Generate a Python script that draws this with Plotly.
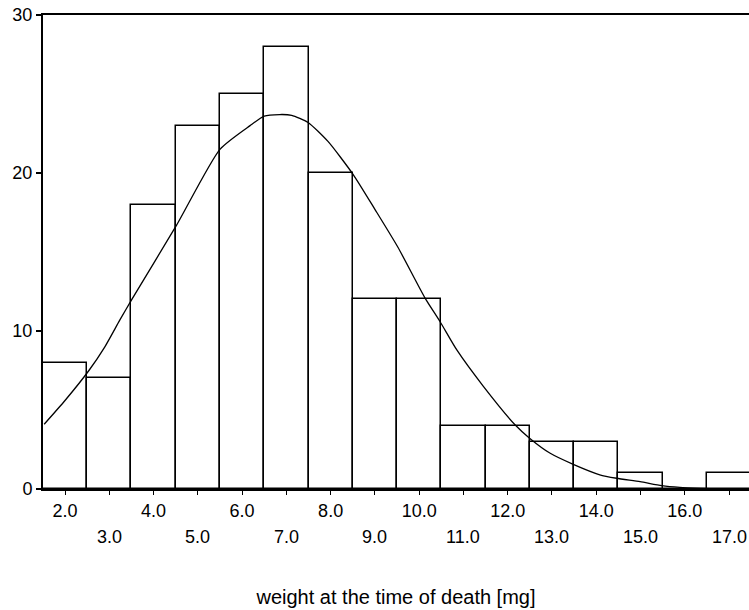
import plotly.graph_objects as go

# Histogram data (bin centres and counts)
bin_centers = [2, 3, 4, 5, 6, 7, 8, 9, 10, 11, 12, 13, 14, 15, 16, 17]
counts = [8, 7, 18, 23, 25, 28, 20, 12, 12, 4, 4, 3, 3, 1, 0, 1]

# Fitted density curve
curve_x = [1.53, 2.0, 2.54, 2.9, 3.24, 3.51, 4.52, 5.5, 6.18, 6.5, 6.85, 7.12, 7.49, 7.94,
           8.51, 9.0, 9.52, 10.13, 10.47, 10.85, 11.45, 12.17, 12.5, 12.96, 13.48,
           14.08, 14.46, 14.99, 15.48, 15.89, 16.35, 16.78]
curve_y = [4.1, 5.6, 7.5, 9.0, 10.7, 12.0, 16.7, 21.5, 23.0, 23.6, 23.7, 23.65, 23.2, 22.0,
           19.9, 17.7, 15.3, 12.1, 10.6, 8.8, 6.5, 4.05, 3.2, 2.26, 1.56,
           0.9, 0.68, 0.46, 0.21, 0.1, 0.04, 0.0]

x_tick_vals = [2, 3, 4, 5, 6, 7, 8, 9, 10, 11, 12, 13, 14, 15, 16, 17]
upper_row = [v for i, v in enumerate(x_tick_vals) if i % 2 == 0]
lower_row = [v for i, v in enumerate(x_tick_vals) if i % 2 == 1]
y_tick_vals = [0, 10, 20, 30]

x_title = "weight at the time of death [mg]"

fig = go.Figure()
fig.add_trace(go.Bar(
    x=bin_centers, y=counts, width=1,
    marker=dict(color="white", line=dict(color="black", width=1.5)),
    showlegend=False, hoverinfo="x+y",
))
fig.add_trace(go.Scatter(
    x=curve_x, y=curve_y, mode="lines",
    line=dict(color="black", width=1.3, shape="spline", smoothing=0.6),
    showlegend=False,
))

# Lower row of alternating tick labels
for v in lower_row:
    fig.add_annotation(x=v, xref="x", y=0, yref="paper", yshift=-48,
                       text="%.1f" % v, showarrow=False, yanchor="middle",
                       font=dict(size=18))

font_family = "Liberation Sans, Arial, sans-serif"
fig.update_layout(
    width=749, height=610,
    margin=dict(l=43, r=0, t=15, b=121),
    paper_bgcolor="white", plot_bgcolor="white",
    font=dict(family=font_family, size=18, color="black"),
    bargap=0,
    xaxis=dict(
        range=[1.503, 17.45],
        tickmode="array", tickvals=x_tick_vals,
        ticktext=[("%.1f" % v) if v in upper_row else "" for v in x_tick_vals],
        ticks="outside", ticklen=4, tickwidth=1, tickcolor="black",
        showline=True, linecolor="black", linewidth=2, mirror=True,
        showgrid=False, zeroline=False,
        tickfont=dict(size=18),
        title=dict(text=x_title, font=dict(size=20), standoff=70),
    ),
    yaxis=dict(
        range=[0, 30],
        tickmode="array", tickvals=y_tick_vals,
        ticks="outside", ticklen=5, tickwidth=1.5, tickcolor="black",
        showline=True, linecolor="black", linewidth=2,
        showgrid=False, zeroline=False,
        tickfont=dict(size=18),
    ),
)

fig.write_html("out.html")
